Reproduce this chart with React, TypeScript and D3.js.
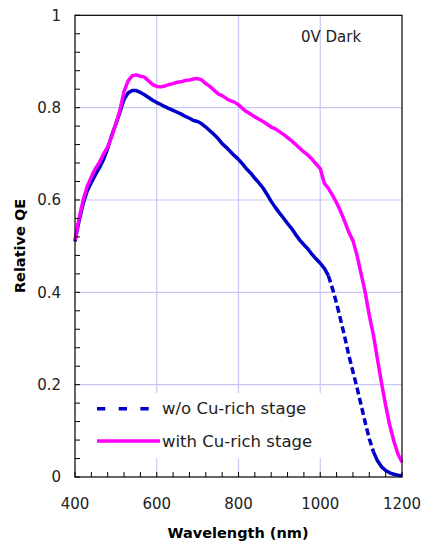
import React from "react";
import * as d3 from "d3";

const wavelengths: number[] = [
  400, 410, 420, 430, 440, 450, 460, 470, 480, 490, 500, 510, 520, 530, 540, 550, 560, 570, 580, 590,
  600, 610, 620, 630, 640, 650, 660, 670, 680, 690, 700, 710, 720, 730, 740, 750, 760, 770, 780, 790,
  800, 810, 820, 830, 840, 850, 860, 870, 880, 890, 900, 910, 920, 930, 940, 950, 960, 970, 980, 990,
  1000, 1010, 1020, 1030, 1040, 1050, 1060, 1070, 1080, 1090, 1100, 1110, 1120, 1130, 1140, 1150, 1160,
  1170, 1180, 1190, 1200,
];

const qeWithout: number[] = [
  0.51, 0.555, 0.592, 0.62, 0.638, 0.655, 0.67, 0.688, 0.712, 0.74, 0.765, 0.79, 0.818, 0.832, 0.837,
  0.837, 0.833, 0.828, 0.822, 0.816, 0.811, 0.807, 0.802, 0.798, 0.794, 0.79, 0.786, 0.781, 0.777, 0.772,
  0.77, 0.765, 0.758, 0.75, 0.742, 0.733, 0.722, 0.714, 0.705, 0.696, 0.688, 0.678, 0.667, 0.658, 0.647,
  0.637, 0.626, 0.612, 0.597, 0.584, 0.572, 0.561, 0.549, 0.538, 0.525, 0.513, 0.503, 0.494, 0.482,
  0.472, 0.463, 0.452, 0.436, 0.408, 0.376, 0.34, 0.303, 0.263, 0.228, 0.193, 0.156, 0.118, 0.083,
  0.055, 0.035, 0.022, 0.014, 0.009, 0.006, 0.004, 0.003,
];

const qeWith: number[] = [
  0.513, 0.56, 0.6, 0.63, 0.65, 0.668, 0.682, 0.7, 0.715, 0.738, 0.765, 0.795, 0.835, 0.858, 0.869,
  0.871, 0.868, 0.866, 0.858, 0.85, 0.846, 0.845, 0.847, 0.85, 0.852, 0.855, 0.856, 0.859, 0.86, 0.862,
  0.863, 0.86, 0.852, 0.846, 0.838, 0.83, 0.826, 0.82, 0.815, 0.812, 0.806, 0.798, 0.791, 0.786, 0.78,
  0.775, 0.77, 0.764, 0.758, 0.754, 0.748, 0.742, 0.735, 0.728, 0.72, 0.712, 0.704, 0.697, 0.688, 0.678,
  0.668, 0.636, 0.625, 0.61, 0.594, 0.575, 0.553, 0.53, 0.512, 0.48, 0.44, 0.4, 0.35, 0.308, 0.255,
  0.203, 0.155, 0.112, 0.078, 0.05, 0.032,
];

const xTicks: number[] = [400, 600, 800, 1000, 1200];
const yTicks: number[] = [0, 0.2, 0.4, 0.6, 0.8, 1];
const xGrid: number[] = [600, 800, 1000];
const yGrid: number[] = [0.2, 0.4, 0.6, 0.8];
const seriesNames: string[] = ["w/o Cu-rich stage", "with Cu-rich stage"];

const W = 422;
const H = 548;
const L = 75;
const R = 402;
const T = 15.3;
const B = 477;

const FONT = "'DejaVu Sans', sans-serif";
const BLUE = "#0000c8";
const MAG = "#ff00ff";
const GRID = "#c8c8f6";

export default function App() {
  const x = d3.scaleLinear().domain([400, 1200]).range([L, R]);
  const y = d3.scaleLinear().domain([0, 1]).range([B, T]);

  const dataWithout = wavelengths.map((w, i) => ({ w, v: qeWithout[i] }));
  const dataWith = wavelengths.map((w, i) => ({ w, v: qeWith[i] }));

  const line = d3
    .line<{ w: number; v: number }>()
    .x((d) => x(d.w))
    .y((d) => y(d.v));

  const solidA = dataWithout.filter((d) => d.w <= 1020);
  const dashed = dataWithout.filter((d) => d.w >= 1020 && d.w <= 1130);
  const solidB = dataWithout.filter((d) => d.w >= 1130);

  const xMinor = d3.range(400, 1200 + 1, 40);
  const yMinor = d3.range(0, 1.0001, 0.04);

  return (
    <svg
      width={W}
      height={H}
      style={{ position: "absolute", left: 0, top: 0, background: "#fff" }}
      fontFamily={FONT}
    >
      <rect x={0} y={0} width={W} height={H} fill="#fff" />
      {xGrid.map((g) => (
        <line key={"gx" + g} x1={x(g)} x2={x(g)} y1={T} y2={B} stroke={GRID} strokeWidth={1.2} />
      ))}
      {yGrid.map((g) => (
        <line key={"gy" + g} x1={L} x2={R} y1={y(g)} y2={y(g)} stroke={GRID} strokeWidth={1.2} />
      ))}
      {/* legend background */}
      <rect x={86} y={393} width={236} height={65} fill="#fff" />

      {/* blue series */}
      <path d={line(solidA) || ""} fill="none" stroke={BLUE} strokeWidth={3.5} strokeLinejoin="round" />
      <path d={line(dashed) || ""} fill="none" stroke={BLUE} strokeWidth={3.5} strokeDasharray="7,3.5" />
      <path d={line(solidB) || ""} fill="none" stroke={BLUE} strokeWidth={3.5} strokeLinejoin="round" />
      {/* magenta series */}
      <path d={line(dataWith) || ""} fill="none" stroke={MAG} strokeWidth={3.5} strokeLinejoin="round" />

      {/* frame */}
      <rect x={L} y={T} width={R - L} height={B - T} fill="none" stroke="#000" strokeWidth={1.2} />
      {xMinor.map((t) => (
        <line key={"xt" + t} x1={x(t)} x2={x(t)} y1={B} y2={B - 5} stroke="#000" strokeWidth={1} />
      ))}
      {yMinor.map((t) => (
        <line key={"yt" + t} x1={L} x2={L + 5} y1={y(t)} y2={y(t)} stroke="#000" strokeWidth={1} />
      ))}

      {xTicks.map((t) => (
        <text key={"xl" + t} x={x(t)} y={509} textAnchor="middle" fontSize={15} fill="#222">
          {t}
        </text>
      ))}
      {yTicks.map((t) => (
        <text
          key={"yl" + t}
          x={61}
          y={y(t)}
          dy="0.36em"
          textAnchor="end"
          fontSize={15}
          fill="#222"
        >
          {t === 0 || t === 1 ? String(t) : t.toFixed(1)}
        </text>
      ))}

      <text x={238} y={538} textAnchor="middle" fontSize={14.5} fontWeight="bold" fill="#000">
        Wavelength (nm)
      </text>
      <text
        transform={`translate(25,246) rotate(-90)`}
        textAnchor="middle"
        fontSize={14.5}
        fontWeight="bold"
        fill="#000"
      >
        Relative QE
      </text>

      <text x={301} y={42} fontSize={15} fill="#222">
        0V Dark
      </text>

      {/* legend */}
      <line x1={97} x2={150} y1={408.7} y2={408.7} stroke={BLUE} strokeWidth={3.5} strokeDasharray="8.3,13.4" />
      <text x={162} y={414} fontSize={16.5} fill="#222">
        {seriesNames[0]}
      </text>
      <line x1={97} x2={160} y1={441} y2={441} stroke={MAG} strokeWidth={3.5} />
      <text x={162} y={447} fontSize={16.5} fill="#222">
        {seriesNames[1]}
      </text>
    </svg>
  );
}
